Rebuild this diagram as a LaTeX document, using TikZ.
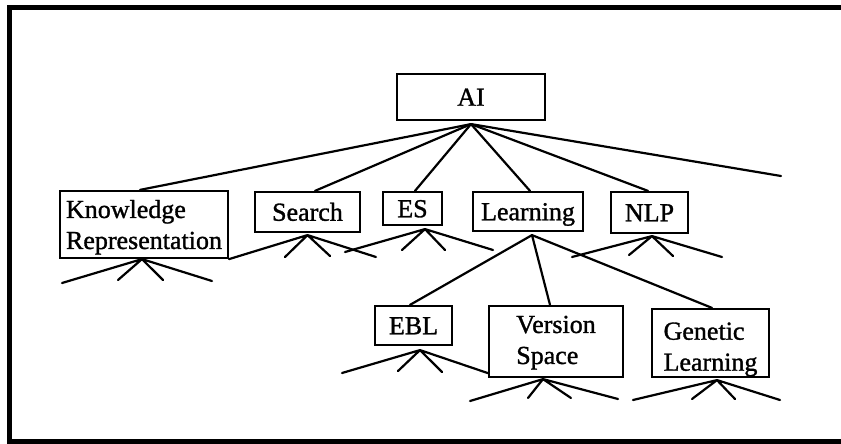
\documentclass[tikz,border=0pt]{standalone}
\usepackage{fontspec}
\setmainfont{Liberation Serif}
\newfontfamily\scanfont[FakeBold=1.2]{Liberation Serif}
\usetikzlibrary{calc}
\begin{document}
\begin{tikzpicture}[x=1pt,y=-1pt,
  box/.style={draw,line width=2.2pt,inner sep=0pt,font=\scanfont\fontsize{26}{31}\selectfont},
  one/.style={box,text height=17.5pt,text depth=0pt},
  link/.style={line width=2.2pt,line cap=round},
  frameline/.style={line width=5pt,line join=miter}]
\useasboundingbox (0,0) rectangle (841,444);
\draw[frameline] (841,7.5) -- (9,7.5) -- (9,441.5) -- (841,441.5);

% boxes
\node[one,minimum width=148pt,minimum height=46pt] (ai) at (471,97) {AI};
\node[box,align=left,minimum width=168pt,minimum height=67pt] (kr) at (144,224.5) {\rule{0pt}{23.5pt}Knowledge\\Representation};
\node[one,minimum width=105pt,minimum height=40pt] (search) at (307.5,212) {Search};
\node[one,minimum width=59pt,minimum height=33pt] (es) at (412.5,208.5) {ES};
\node[one,minimum width=110pt,minimum height=39pt] (learn) at (528,211.5) {Learning};
\node[one,minimum width=77pt,minimum height=41pt] (nlp) at (649.5,212.5) {NLP};
\node[one,minimum width=77pt,minimum height=39pt] (ebl) at (413.5,325.5) {EBL};
\node[box,align=left,minimum width=134pt,minimum height=71pt] (vs) at (556,341.5) {\rule{0pt}{19.5pt}Version\\Space};
\node[box,align=left,minimum width=117pt,minimum height=68pt] (gl) at (710.5,343) {\rule{0pt}{30pt}Genetic\\Learning};

% AI children
\coordinate (aiA) at ($(ai.south)+(0,3)$);
\coordinate (aiFree) at (781,176);
\draw[link] (aiA) -- ($(kr.north)+(-4,0)$);
\draw[link] (aiA) -- ($(search.north)+(7.5,0)$);
\draw[link] (aiA) -- ($(es.north)+(2.5,0)$);
\draw[link] (aiA) -- ($(learn.north)+(2,0)$);
\draw[link] (aiA) -- ($(nlp.north)+(-1.5,0)$);
\draw[link] (aiA) -- (aiFree);

% Learning children
\coordinate (lA) at ($(learn.south)+(4,3)$);
\draw[link] (lA) -- ($(ebl.north)+(-3.5,0)$);
\draw[link] (lA) -- ($(vs.north)+(-6,0)$);
\draw[link] (lA) -- ($(gl.north)+(1.5,0)$);

% fans
\coordinate (krA) at ($(kr.south)+(-2,0)$);
\coordinate (kr1) at (62,283);
\coordinate (kr2) at (118,280);
\coordinate (kr3) at (163,280);
\coordinate (kr4) at (212,281);
\draw[link] (krA) -- (kr1) (krA) -- (kr2) (krA) -- (kr3) (krA) -- (kr4);

\coordinate (seA) at ($(search.south)+(0,2)$);
\coordinate (se2) at (285,257);
\coordinate (se3) at (330,256);
\coordinate (se4) at (376,257);
\draw[link] (seA) -- (kr.south east) (seA) -- (se2) (seA) -- (se3) (seA) -- (se4);

\coordinate (esA) at ($(es.south)+(12.5,3)$);
\coordinate (es1) at (345,252);
\coordinate (es2) at (402,250);
\coordinate (es3) at (445,250);
\coordinate (es4) at (493,250);
\draw[link] (esA) -- (es1) (esA) -- (es2) (esA) -- (es3) (esA) -- (es4);

\coordinate (nlA) at ($(nlp.south)+(2.5,2)$);
\coordinate (nl1) at (572,257);
\coordinate (nl2) at (629,255);
\coordinate (nl3) at (673,256);
\coordinate (nl4) at (722,257);
\draw[link] (nlA) -- (nl1) (nlA) -- (nl2) (nlA) -- (nl3) (nlA) -- (nl4);

\coordinate (ebA) at ($(ebl.south)+(6.5,4)$);
\coordinate (eb1) at (342,373);
\coordinate (eb2) at (398,371);
\coordinate (eb3) at (442,372);
\draw[link] (ebA) -- (eb1) (ebA) -- (eb2) (ebA) -- (eb3) (ebA) -- ($(vs.south west)+(0,-5)$);

\coordinate (vsA) at ($(vs.south)+(-13,1)$);
\coordinate (vs1) at (470,401);
\coordinate (vs2) at (528,398);
\coordinate (vs3) at (571,398);
\coordinate (vs4) at (618,399);
\draw[link] (vsA) -- (vs1) (vsA) -- (vs2) (vsA) -- (vs3) (vsA) -- (vs4);

\coordinate (glA) at ($(gl.south)+(6.5,2)$);
\coordinate (gl1) at (633,400);
\coordinate (gl2) at (692,399);
\coordinate (gl3) at (735,399);
\coordinate (gl4) at (780,400);
\draw[link] (glA) -- (gl1) (glA) -- (gl2) (glA) -- (gl3) (glA) -- (gl4);
\end{tikzpicture}
\end{document}
